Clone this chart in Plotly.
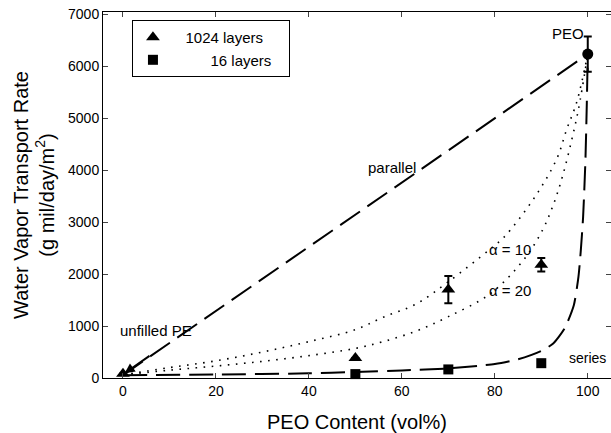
import plotly.graph_objects as go

# ---- data ----
tri_x = [0, 50, 70, 90]
tri_y = [80, 385, 1700, 2180]
tri_err = [0, 0, 260, 130]

sq_x = [50, 70, 90]
sq_y = [75, 165, 285]

peo_x = [100]
peo_y = [6230]
peo_err = [340]

parallel_x = [0, 100]
parallel_y = [55, 6230]

series_x = [0, 20, 40, 50, 60, 70, 80, 85, 90, 92.5, 95, 97, 98, 98.5, 99, 99.5, 99.8, 100]
series_y = [55, 68, 90, 115, 145, 185, 270, 360, 520, 660, 950, 1400, 1950, 2450, 3100, 4200, 5300, 6230]

a10_x = [0, 10, 20, 30, 40, 50, 56, 63, 70, 79, 82, 88.6, 93.3, 95.5, 97.6, 100]
a10_y = [60, 200, 330, 500, 700, 930, 1170, 1420, 1850, 2480, 2710, 3480, 4210, 4790, 5300, 6230]

a20_x = [0, 10, 20, 30, 40, 50, 56, 63, 70, 79, 86, 90, 92.5, 94.6, 96.6, 98, 100]
a20_y = [60, 150, 230, 320, 430, 570, 700, 900, 1180, 1620, 2250, 2800, 3310, 3890, 4600, 5170, 6230]

x_ticks = [0, 20, 40, 60, 80, 100]
y_ticks = [0, 1000, 2000, 3000, 4000, 5000, 6000, 7000]

FONT = "Liberation Sans, Arial, sans-serif"
NB = "\u00a0"

fig = go.Figure()

fig.add_trace(go.Scatter(x=parallel_x, y=parallel_y, mode="lines",
                         line=dict(color="black", width=2, dash="24px,9px"),
                         showlegend=False, hoverinfo="skip"))
fig.add_trace(go.Scatter(x=series_x, y=series_y, mode="lines",
                         line_shape="spline",
                         line=dict(color="black", width=2, dash="24px,9px", smoothing=0.6),
                         showlegend=False, hoverinfo="skip"))
fig.add_trace(go.Scatter(x=a10_x, y=a10_y, mode="lines", line_shape="spline",
                         line=dict(color="black", width=1.6, dash="1.6px,6.5px"),
                         showlegend=False, hoverinfo="skip"))
fig.add_trace(go.Scatter(x=a20_x, y=a20_y, mode="lines", line_shape="spline",
                         line=dict(color="black", width=1.6, dash="1.6px,6.5px"),
                         showlegend=False, hoverinfo="skip"))

fig.add_trace(go.Scatter(x=tri_x, y=tri_y, mode="markers",
                         name=NB * 3 + "1024 layers" + NB * 5,
                         marker=dict(symbol="triangle-up", size=12, color="black"),
                         error_y=dict(type="data", array=tri_err, color="black",
                                      thickness=2, width=4),
                         cliponaxis=False))
fig.add_trace(go.Scatter(x=sq_x, y=sq_y, mode="markers",
                         name=NB * 9 + "16 layers",
                         marker=dict(symbol="square", size=10, color="black"),
                         cliponaxis=False))
fig.add_trace(go.Scatter(x=peo_x, y=peo_y, mode="markers", showlegend=False,
                         marker=dict(symbol="circle", size=11, color="black"),
                         error_y=dict(type="data", array=peo_err, color="black",
                                      thickness=2, width=4),
                         cliponaxis=False))

ann_font = dict(family=FONT, size=15, color="black")
fig.add_annotation(x=99.6, y=6620, text="PEO", showarrow=False, xanchor="right", font=ann_font)
fig.add_annotation(x=52.3, y=4040, text="parallel", showarrow=False, xanchor="left", font=ann_font)
fig.add_annotation(x=78.3, y=2480, text="α = 10", showarrow=False, xanchor="left", font=ann_font)
fig.add_annotation(x=78.3, y=1690, text="α = 20", showarrow=False, xanchor="left", font=ann_font)
fig.add_annotation(x=-1.1, y=920, text="unfilled PE", showarrow=False, xanchor="left", font=ann_font)
fig.add_annotation(x=95.6, y=385, text="series", showarrow=False, xanchor="left",
                   font=dict(family=FONT, size=14, color="black"))
fig.add_annotation(x=0, y=70, text=" ", showarrow=True, ax=30, ay=-21,
                   arrowhead=2, arrowsize=1, arrowwidth=2, arrowcolor="black", standoff=2)

fig.update_layout(
    width=611, height=433,
    margin=dict(l=103, r=0, t=12, b=55),
    paper_bgcolor="white", plot_bgcolor="white",
    font=dict(family=FONT, size=14, color="black"),
    legend=dict(x=0.057, y=0.978, xanchor="left", yanchor="top",
                bordercolor="black", borderwidth=1, bgcolor="white",
                font=dict(family=FONT, size=15), tracegroupgap=0,
                itemwidth=30),
    xaxis=dict(range=[-4.3, 105], tickvals=x_ticks, ticks="inside", ticklen=5,
               showline=True, linecolor="black", linewidth=1, mirror="ticks",
               showgrid=False, zeroline=False, tickfont=dict(size=14),
               title=dict(text="PEO Content (vol%)", font=dict(size=20), standoff=19)),
    yaxis=dict(range=[0, 7040], tickvals=y_ticks, ticks="inside", ticklen=5,
               showline=True, linecolor="black", linewidth=1, mirror="ticks",
               showgrid=False, zeroline=False, tickfont=dict(size=14),
               title=dict(text="Water Vapor Transport Rate<br>(g mil/day/m<sup>2</sup>)",
                          font=dict(size=20), standoff=8)),
)

fig.write_html("out.html")
